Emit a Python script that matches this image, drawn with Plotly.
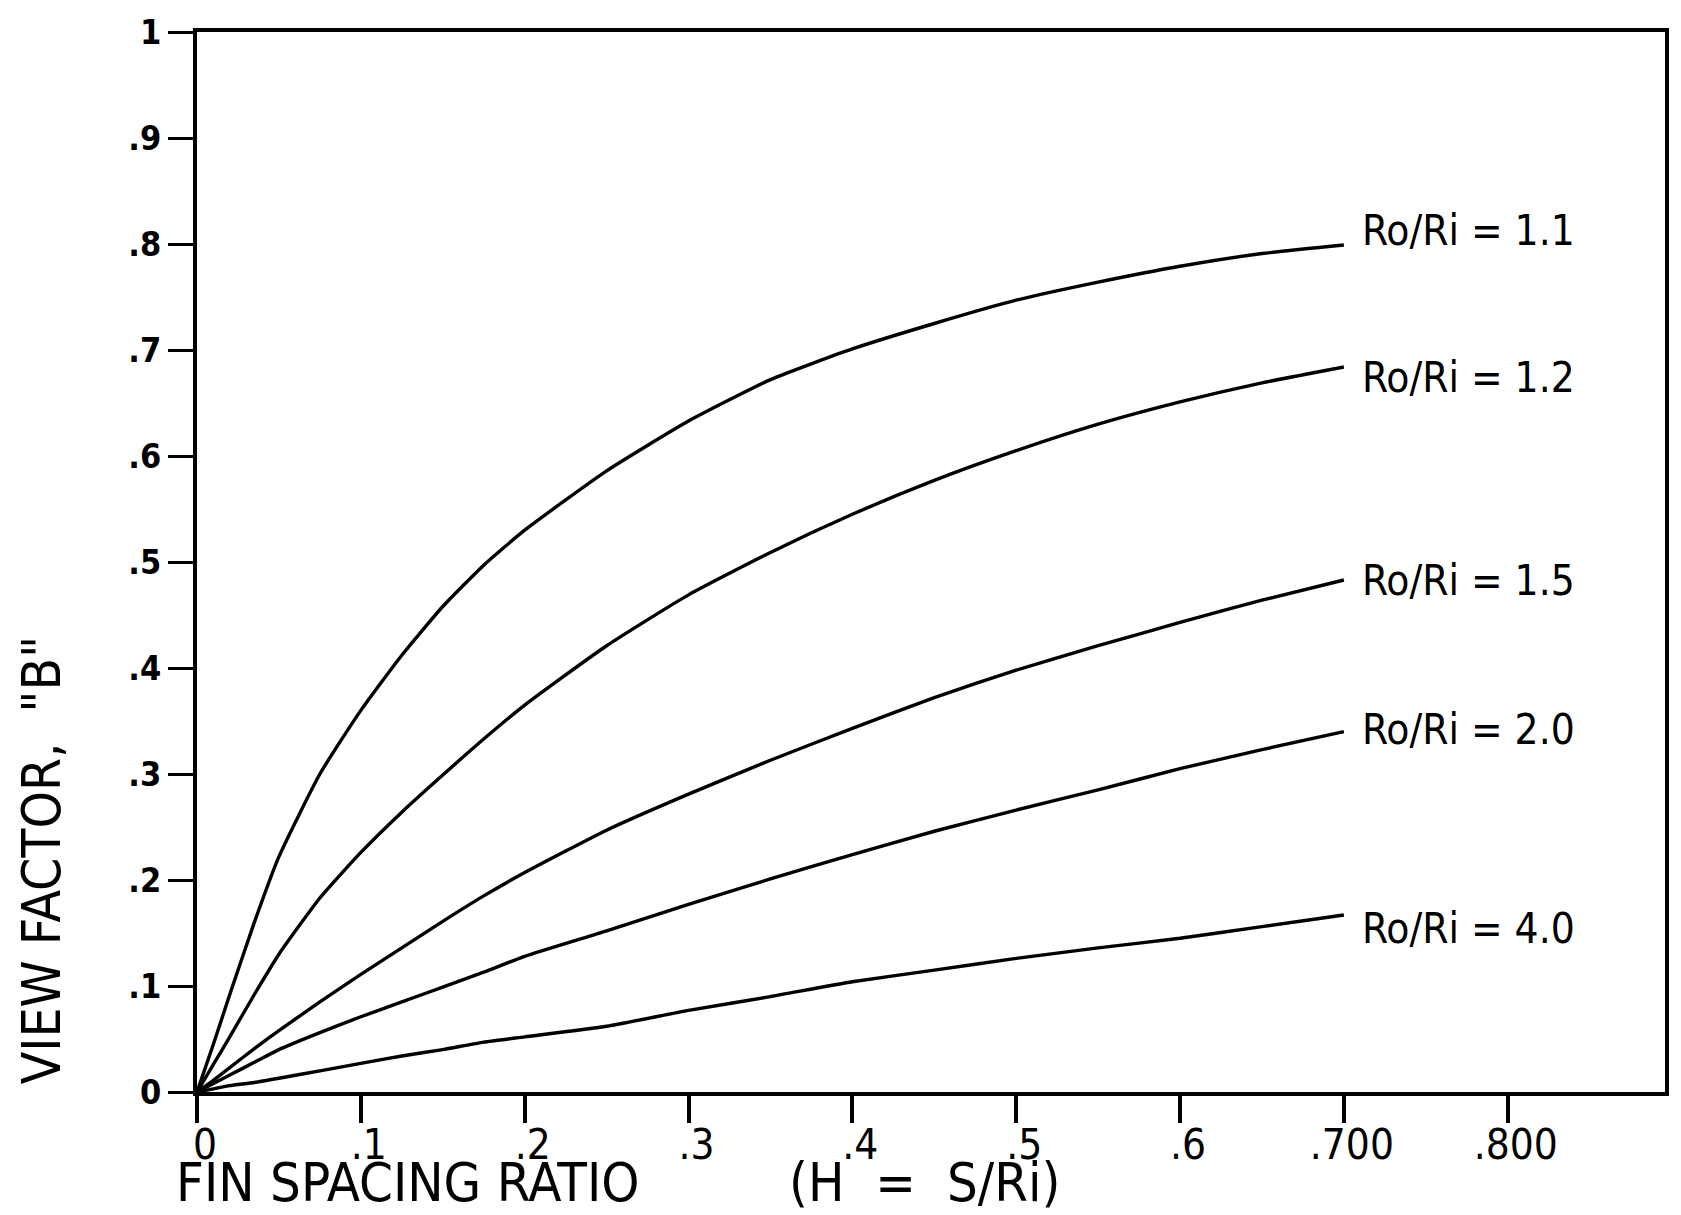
import plotly.graph_objects as go

# Fin spacing ratio H = S/Ri (shared abscissa for every curve)
h_ratio = [0, 0.01, 0.02, 0.035, 0.05, 0.075, 0.1, 0.125, 0.15, 0.175, 0.2,
           0.25, 0.3, 0.35, 0.4, 0.45, 0.5, 0.55, 0.6, 0.65, 0.7]

# View factor "B" for each radius ratio Ro/Ri
b_ro11 = [0, 0.045, 0.092, 0.160, 0.222, 0.300, 0.360, 0.412, 0.458, 0.497, 0.530,
          0.586, 0.633, 0.672, 0.701, 0.725, 0.747, 0.764, 0.779, 0.791, 0.799]
b_ro12 = [0, 0.026, 0.052, 0.092, 0.130, 0.183, 0.226, 0.264, 0.299, 0.333, 0.365,
          0.421, 0.469, 0.509, 0.545, 0.577, 0.605, 0.630, 0.651, 0.669, 0.684]
b_ro15 = [0, 0.011, 0.023, 0.041, 0.058, 0.085, 0.111, 0.136, 0.161, 0.185, 0.207,
          0.247, 0.281, 0.313, 0.343, 0.372, 0.398, 0.421, 0.443, 0.464, 0.483]
b_ro20 = [0, 0.008, 0.016, 0.028, 0.040, 0.056, 0.071, 0.085, 0.099, 0.113, 0.128,
          0.152, 0.177, 0.201, 0.224, 0.246, 0.266, 0.285, 0.305, 0.323, 0.340]
b_ro40 = [0, 0.003, 0.006, 0.009, 0.013, 0.020, 0.027, 0.034, 0.040, 0.047, 0.052,
          0.062, 0.077, 0.090, 0.104, 0.115, 0.126, 0.136, 0.145, 0.156, 0.167]

curve_labels = ["Ro/Ri = 1.1", "Ro/Ri = 1.2", "Ro/Ri = 1.5", "Ro/Ri = 2.0", "Ro/Ri = 4.0"]
curves = [b_ro11, b_ro12, b_ro15, b_ro20, b_ro40]

x_tick_vals = [0, 0.1, 0.2, 0.3, 0.4, 0.5, 0.6, 0.7, 0.8]
x_tick_text = ["0", ".1", ".2", ".3", ".4", ".5", ".6", ".700", ".800"]
y_tick_vals = [0, 0.1, 0.2, 0.3, 0.4, 0.5, 0.6, 0.7, 0.8, 0.9, 1.0]
y_tick_text = ["0", ".1", ".2", ".3", ".4", ".5", ".6", ".7", ".8", ".9", "1"]

NARROW = "Liberation Sans Narrow, DejaVu Sans Condensed, Arial Narrow, sans-serif"
LABEL_FONT = "DejaVu Sans Condensed, DejaVu Sans, sans-serif"

# vertical nudges (px) of each curve label relative to the curve end
label_yshift = [15, -11, 0, 2, -14]

fig = go.Figure()
for name, vals in zip(curve_labels, curves):
    fig.add_trace(go.Scatter(
        x=h_ratio, y=vals, mode="lines", name=name,
        line=dict(color="black", width=3.4, shape="spline", smoothing=0.5),
        showlegend=False, hoverinfo="skip",
    ))

annotations = []
for name, vals, dy in zip(curve_labels, curves, label_yshift):
    annotations.append(dict(
        x=h_ratio[-1], y=vals[-1], xref="x", yref="y",
        text=name, showarrow=False, xanchor="left", yanchor="middle",
        xshift=16, yshift=dy,
        font=dict(family=LABEL_FONT, size=42, color="black"),
    ))

# axis titles drawn as free text
annotations.append(dict(
    x=-0.106, y=0.219, xref="paper", yref="paper",
    text='VIEW FACTOR,  "B"', textangle=-90, showarrow=False,
    xanchor="center", yanchor="middle",
    font=dict(family=NARROW, size=53, color="black"),
))
annotations.append(dict(
    x=-0.0156, y=-0.085, xref="paper", yref="paper",
    text="FIN SPACING RATIO", showarrow=False,
    xanchor="left", yanchor="middle",
    font=dict(family=NARROW, size=54, color="black"),
))
annotations.append(dict(
    x=0.4018, y=-0.085, xref="paper", yref="paper",
    text="(H  =  S/Ri)", showarrow=False,
    xanchor="left", yanchor="middle",
    font=dict(family=NARROW, size=54, color="black"),
))

fig.update_layout(
    width=1681, height=1215,
    margin=dict(l=197, r=13, t=23, b=123),
    paper_bgcolor="white", plot_bgcolor="white",
    annotations=annotations,
    xaxis=dict(
        range=[0, 0.896], tickvals=x_tick_vals, ticktext=x_tick_text,
        showgrid=False, zeroline=False,
        showline=True, linecolor="black", linewidth=4, mirror=True,
        ticks="outside", ticklen=27, tickwidth=4, tickcolor="black",
        ticklabelstandoff=-14, ticklabelshift=8,
        tickfont=dict(family=NARROW, size=42, color="black"),
    ),
    yaxis=dict(
        range=[0, 1], tickvals=y_tick_vals, ticktext=y_tick_text,
        showgrid=False, zeroline=False,
        showline=True, linecolor="black", linewidth=4, mirror=True,
        ticks="outside", ticklen=25, tickwidth=3, tickcolor="black",
        tickfont=dict(family=NARROW, size=34, color="black", weight="bold"),
    ),
)

fig.write_html("out.html")
